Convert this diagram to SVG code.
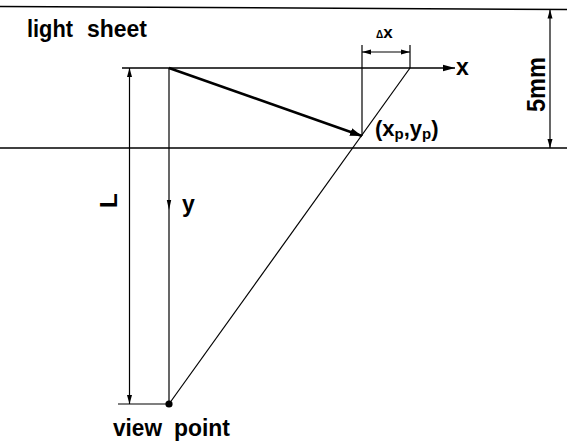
<svg xmlns="http://www.w3.org/2000/svg" width="567" height="445" viewBox="0 0 567 445">
  <defs>
    <style>
      .ln { stroke: #000; stroke-width: 1.2; fill: none; }
      .sheet { stroke: #000; stroke-width: 1.5; fill: none; }
      .bold { stroke: #000; stroke-width: 2.6; fill: none; }
      .lbl { font-family: "Liberation Sans", Arial, Helvetica, sans-serif; font-weight: bold; fill: #000; }
    </style>
    <marker id="ah" markerUnits="userSpaceOnUse" markerWidth="10" markerHeight="6" refX="9" refY="3" orient="auto-start-reverse">
      <path d="M0,0.5 L9,3 L0,5.5 Z" fill="#000"/>
    </marker>
    <marker id="ahx" markerUnits="userSpaceOnUse" markerWidth="13" markerHeight="8" refX="12" refY="4" orient="auto">
      <path d="M0,0.8 L12,4 L0,7.2 Z" fill="#000"/>
    </marker>
    <marker id="ahb" markerUnits="userSpaceOnUse" markerWidth="13" markerHeight="9" refX="12" refY="4.5" orient="auto">
      <path d="M0,0.5 L12,4.5 L0,8.5 Z" fill="#000"/>
    </marker>
  </defs>

  <g id="light-sheet">
    <line class="sheet" x1="0" y1="6.5" x2="567" y2="9.5"/>
    <line class="sheet" x1="0" y1="148" x2="567" y2="148"/>
    <text class="lbl" y="37" font-size="23"><tspan x="27" textLength="46" lengthAdjust="spacingAndGlyphs">light</tspan> <tspan x="87" textLength="60" lengthAdjust="spacingAndGlyphs">sheet</tspan></text>
  </g>

  <g id="connectors">
    <!-- x axis -->
    <line class="sheet" x1="122" y1="68" x2="455" y2="68" marker-end="url(#ahx)"/>
    <!-- y axis -->
    <line class="ln" x1="169" y1="68" x2="169" y2="404"/>
    <path d="M166.8,200 L169,210 L171.2,200 Z" fill="#000"/>
    <!-- slanted sight line -->
    <line class="ln" x1="410" y1="68" x2="169" y2="404"/>
    <!-- vector to point -->
    <line class="bold" x1="169" y1="68" x2="362" y2="136" marker-end="url(#ahb)"/>
    <!-- delta x extension lines -->
    <line class="ln" x1="362" y1="45" x2="362" y2="136"/>
    <line class="ln" x1="410" y1="45" x2="410" y2="68"/>
    <line class="ln" x1="362" y1="52" x2="410" y2="52" marker-start="url(#ah)" marker-end="url(#ah)"/>
    <!-- L dimension -->
    <line class="ln" x1="118" y1="404" x2="169" y2="404"/>
    <line class="ln" x1="129.5" y1="68" x2="129.5" y2="404" marker-start="url(#ah)" marker-end="url(#ah)"/>
    <!-- 5mm dimension -->
    <line class="ln" x1="550" y1="9.5" x2="550" y2="148" marker-start="url(#ah)" marker-end="url(#ah)"/>
  </g>

  <g id="view-point">
    <circle cx="169" cy="404" r="3.6" fill="#000"/>
    <text class="lbl" y="436" font-size="23"><tspan x="113" textLength="49" lengthAdjust="spacingAndGlyphs">view</tspan> <tspan x="174" textLength="56" lengthAdjust="spacingAndGlyphs">point</tspan></text>
  </g>

  <g id="labels">
    <text class="lbl" x="456" y="75" font-size="23">x</text>
    <text class="lbl" x="182" y="212" font-size="23">y</text>
    <text class="lbl" x="376" y="38"><tspan font-size="10">Δ</tspan><tspan font-size="17">x</tspan></text>
    <text class="lbl" x="375" y="136" font-size="22">(x<tspan font-size="15" dy="3">p</tspan><tspan dy="-3">,y</tspan><tspan font-size="15" dy="3">p</tspan><tspan dy="-3">)</tspan></text>
    <text class="lbl" transform="translate(545,112) rotate(-90)" font-size="25" textLength="55" lengthAdjust="spacingAndGlyphs">5mm</text>
    <text class="lbl" transform="translate(117,208) rotate(-90)" font-size="24">L</text>
  </g>
</svg>
